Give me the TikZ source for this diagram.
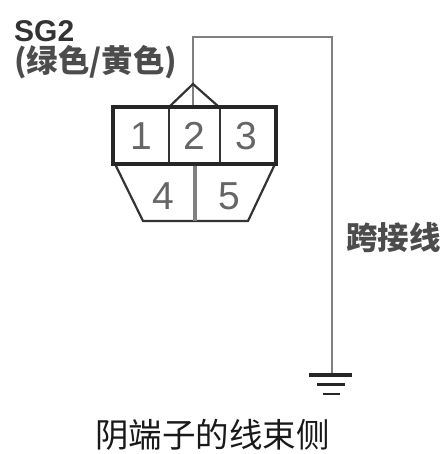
\documentclass[tikz,border=0pt]{standalone}
\usepackage{fontspec}
\setmainfont{Liberation Sans}
\newfontfamily\cjk{Noto Sans CJK SC}
\usepackage{xcolor}
\usetikzlibrary{positioning,calc}

\begin{document}
\begin{tikzpicture}[
  x=1pt, y=-1pt,
  housing/.style={draw=black!80, line width=2.2pt},
  thickhousing/.style={draw=black!85, line width=3.6pt},
  wire/.style={draw=black!50, line width=2.2pt},
  pin/.style={font=\fontsize{39}{39}\selectfont, text=black!60, inner sep=0pt},
  cjklabel/.style={font=\cjk\fontsize{31}{31}\selectfont, text=black!70, inner sep=0pt, anchor=west},
  groundbar/.style={draw=black!85}
]
\useasboundingbox (0,0) rectangle (443,454);

% Corner points
\coordinate (apex) at (193,84);
\coordinate (wireTop) at (193,37);
\coordinate (wireCorner) at (332,37);
\coordinate (gnd) at (332,375);
\coordinate (trapLeft) at (115,164);
\coordinate (trapRight) at (275,164);
\coordinate (trapBotLeft) at (143,221);
\coordinate (trapBotRight) at (248,221);
\coordinate (div) at (195,164);
\coordinate (divBot) at (195,221);

% Jumper wire
\draw[wire] (apex) -- (wireTop) -- (wireCorner) -- (gnd);
\draw[wire] (apex) -- (193,107);

% Connector
\draw[housing] (169,107) -- (apex) -- (219,107);
\draw[housing] (trapLeft) -- (trapBotLeft) -- (trapBotRight) -- (trapRight);
\draw[wire, line width=4pt] (div) -- (divBot);
\draw[housing] (169,107) -- (169,164);
\draw[housing, line width=1.5pt] (220,107) -- (220,164);
\draw[thickhousing] (113,107) rectangle (276,164);

% Pin numbers
\node[pin] (pinOne) at (141,136) {1};
\node[pin] (pinTwo) at (194,136) {2};
\node[pin] (pinThree) at (246,136) {3};
\node[pin] (pinFour) at (163,196) {4};
\node[pin] (pinFive) at (229,196) {5};

% Ground symbol
\draw[groundbar, line width=3.6pt] (309,375) -- (352,375);
\draw[groundbar, line width=2.2pt] (317,384.5) -- (345,384.5);
\draw[groundbar, line width=1.2pt] (323,394) -- (340,394);

% Labels
\node[font=\bfseries\fontsize{30}{30}\selectfont, text=black!80, inner sep=0pt, anchor=west] (sgName) at (14,31) {SG2};
\node[cjklabel, font=\cjk\bfseries\fontsize{31.4}{31.4}\selectfont] (sgColour) at (14,62) {(绿色/黄色)};
\node[cjklabel, font=\cjk\bfseries\fontsize{31.5}{31.5}\selectfont] (jumper) at (346,238) {跨接线};
\node[cjklabel, text=black!90, font=\cjk\fontsize{33.5}{33.5}\selectfont] (side) at (95,435) {阴端子的线束侧};

\end{tikzpicture}
\end{document}
